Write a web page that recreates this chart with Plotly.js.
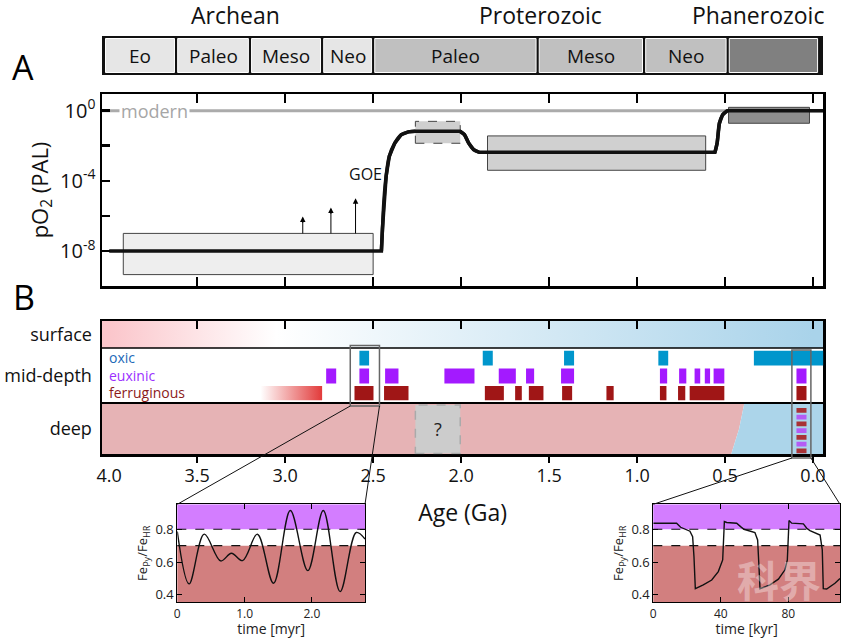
<!DOCTYPE html>
<html><head><meta charset="utf-8">
<script src="https://cdn.plot.ly/plotly-3.0.1.min.js"></script>
<style>html,body{margin:0;padding:0;background:#fff}#chart{width:848px;height:638px}</style>
</head><body><div id="chart"></div>
<script>
// ================= DATA =================
// Geologic time scale (ages in Ga)
const eonNames = ['Archean', 'Proterozoic', 'Phanerozoic'];
const eonLabelAge = [3.28, 1.55, 0.31];
const eraNames = ['Eo', 'Paleo', 'Meso', 'Neo', 'Paleo', 'Meso', 'Neo', ''];
const eraStart = [4.03, 3.62, 3.20, 2.79, 2.50, 1.565, 0.96, 0.485];
const eraEnd   = [3.62, 3.20, 2.79, 2.50, 1.565, 0.96, 0.485, -0.035];
const eraEon   = [0, 0, 0, 0, 1, 1, 1, 2];

// Panel A: atmospheric pO2 (log10 PAL)
const o2Age = [4.0, 2.453, 2.447, 2.438, 2.426, 2.408, 2.377, 2.340, 2.300, 2.26, 2.006, 1.981, 1.957, 1.929, 1.898, 0.557, 0.545, 0.532, 0.514, 0.487, -0.06];
const o2Log = [-8, -8, -6.74, -5.05, -3.73, -2.60, -1.85, -1.37, -1.21, -1.17, -1.17, -1.37, -1.85, -2.22, -2.37, -2.37, -1.85, -0.72, -0.24, 0, 0];
const o2Transitions = [[1, 9], [10, 14], [15, 19]];   // index ranges of the curved transitions
const modernPO2 = 1;
const boxAgeStart = [3.92, 2.26, 1.85, 0.48];
const boxAgeEnd   = [2.50, 2.005, 0.61, 0.02];
const boxLogLow   = [-9.35, -1.86, -3.40, -0.72];
const boxLogHigh  = [-7.0, -0.61, -1.44, 0.19];
const boxFill     = ['#eeeeee', '#cfcfcf', '#d0d0d0', '#8e8e8e'];
const boxDash     = ['solid', 'dash', 'solid', 'solid'];
const arrowAge    = [2.90, 2.74, 2.60];
const arrowLogTop = [-6.03, -5.52, -4.99];
const goeAge = 2.545, goeLog = -3.63;

// Panel B: ocean redox (ages in Ga)
const surfaceGradAge = [4.0, 3.05, 0.0];
const surfaceGradColor = ['#fbc6cb', '#ffffff', '#a9d3ea'];
const ferGradAge = [3.14, 2.79];
const oxicStart = [2.578, 1.877, 1.415, 0.879, 0.336];
const oxicEnd   = [2.523, 1.820, 1.358, 0.823, -0.06];
const euxStart  = [2.767, 2.578, 2.432, 2.095, 1.786, 1.631, 1.432, 0.870, 0.761, 0.673, 0.615, 0.565, 0.094];
const euxEnd    = [2.710, 2.523, 2.356, 1.924, 1.689, 1.585, 1.358, 0.829, 0.720, 0.641, 0.585, 0.504, 0.037];
const ferStart  = [2.606, 2.438, 1.865, 1.693, 1.615, 1.426, 1.174, 0.870, 0.767, 0.701, 0.094];
const ferEnd    = [2.498, 2.299, 1.757, 1.655, 1.532, 1.369, 1.133, 0.833, 0.726, 0.504, 0.037];
const deepOxicBoundaryAge = [0.39, 0.42, 0.465];   // top, middle, bottom of deep zone
const unknownAge = [2.26, 2.005];
const deepStates = ['fer', 'eux', 'fer', 'eux', 'fer', 'eux', 'fer'];
const deepStatesAge = [0.094, 0.037];
const zoomBoxAge = [[2.63, 2.464], [0.12, 0.012]];

// Insets: Fe_py/Fe_HR
const thresholds = [0.7, 0.8];
const inset1Time = [0, 0.175, 0.40, 0.645, 0.805, 0.97, 1.19, 1.43, 1.68, 1.94, 2.17, 2.42, 2.66, 2.79];
const inset1Val  = [0.786, 0.467, 0.77, 0.607, 0.654, 0.609, 0.77, 0.471, 0.914, 0.548, 0.914, 0.42, 0.78, 0.74];
const inset2Time = [0, 13.8, 16.2, 18.8, 21.7, 23.3, 24.1, 24.9, 29.6, 34.6, 38.5, 41.1, 42.1, 43.5, 49.4, 51.7, 53.7, 60.2, 61.8, 62.6, 63.2, 69.1, 74.1, 78.0, 79.4, 80.4, 82.0, 88.9, 90.9, 92.8, 98.8, 100.1, 100.7, 102.7, 107.6, 110.6];
const inset2Val  = [0.837, 0.837, 0.812, 0.80, 0.788, 0.755, 0.633, 0.438, 0.461, 0.491, 0.542, 0.613, 0.847, 0.841, 0.837, 0.816, 0.80, 0.78, 0.735, 0.573, 0.438, 0.461, 0.496, 0.553, 0.613, 0.853, 0.837, 0.833, 0.806, 0.792, 0.765, 0.674, 0.438, 0.436, 0.471, 0.50];

// ================= LAYOUT GEOMETRY =================
const W = 848, H = 638;
const px = v => v / W, py = v => 1 - v / H;
const FONT = 'Open Sans';
const AX = {l: 102, r: 823.3};
const AGE_L = 4.041, AGE_R = -0.0585;
const PA = {t: 94, b: 286};
const PB = {t: 321, b: 454.3};
const BY = PB.b - PB.t;                 // panel B y units
const deepTop = 51.3, surfBot = 106.3;
const rowY = {oxic: [88.8, 103.6], eux: [70.9, 85.7], fer: [54, 68.3]};
const INS = {t: 504.3, b: 602.3, x1: [177.3, 365], x2: [653.3, 840]};
const C = {oxic: '#0096cc', eux: '#a31aff', fer: '#a01616', deepFer: '#a83236', deepEux: '#b45cf5'};

const agePaper = a => px(AX.l) + (AGE_L - a) / (AGE_L - AGE_R) * (px(AX.r) - px(AX.l));
const bPaper = v => py(PB.b) + v / BY * (py(PB.t) - py(PB.b));

const traces = [];
const shapes = [];
const ann = [];
const skip = {hoverinfo: 'skip', showlegend: false};
const mid = {xanchor: 'center', yanchor: 'middle', showarrow: false};

function rect(xa, ya, x0, x1, y0, y1, fill, lineColor, lw, dash) {
  traces.push(Object.assign({type: 'scatter', mode: 'lines', xaxis: xa, yaxis: ya,
    x: [x0, x1, x1, x0, x0], y: [y0, y0, y1, y1, y0], fill: 'toself', fillcolor: fill,
    line: {color: lineColor, width: lw, dash: dash || 'solid'}}, skip));
}

// ---------- Eon bar ----------
shapes.push({type: 'rect', xref: 'paper', yref: 'paper', x0: px(102), x1: px(823), y0: py(75), y1: py(36), fillcolor: '#111', line: {width: 0}});
const eonFill = ['#e6e6e6', '#c0c0c0', '#808080'];
eraNames.forEach((n, i) => {
  const g = 0.009;
  shapes.push({type: 'rect', xref: 'x', yref: 'paper', x0: eraStart[i] - g, x1: eraEnd[i] + g, y0: py(72.5), y1: py(38.5),
    fillcolor: eonFill[eraEon[i]], line: {color: '#ffffff', width: 1}});
  if (n) ann.push(Object.assign({xref: 'x', yref: 'paper', x: (eraStart[i] + eraEnd[i]) / 2, y: py(55.5), text: n,
    font: {family: FONT, size: 19, color: '#111'}}, mid));
});
eonNames.forEach((n, i) => ann.push(Object.assign({xref: 'x', yref: 'paper', x: eonLabelAge[i], y: py(15), text: n,
  font: {family: FONT, size: 23, color: '#111'}}, mid)));
ann.push(Object.assign({xref: 'paper', yref: 'paper', x: px(23), y: py(67), text: 'A', font: {family: FONT, size: 34, color: '#000'}}, mid));
ann.push(Object.assign({xref: 'paper', yref: 'paper', x: px(24), y: py(297), text: 'B', font: {family: FONT, size: 34, color: '#000'}}, mid));

// ---------- Panel A ----------
traces.push(Object.assign({type: 'scatter', mode: 'lines', x: [AGE_L, AGE_R], y: [modernPO2, modernPO2],
  line: {color: '#ababab', width: 3}, xaxis: 'x', yaxis: 'y'}, skip));
boxAgeStart.forEach((s, i) => rect('x', 'y', s, boxAgeEnd[i], Math.pow(10, boxLogLow[i]), Math.pow(10, boxLogHigh[i]),
  boxFill[i], '#444', 1, boxDash[i]));
arrowAge.forEach((a, i) => traces.push(Object.assign({type: 'scatter', mode: 'lines', xaxis: 'x', yaxis: 'y',
  x: [a, a], y: [Math.pow(10, boxLogHigh[0]), Math.pow(10, arrowLogTop[i] - 0.3)], line: {color: '#000', width: 1}}, skip)));
arrowAge.forEach((a, i) => ann.push({xref: 'x', yref: 'y', x: a, y: arrowLogTop[i], ax: a, ay: arrowLogTop[i] - 0.45,
  axref: 'x', ayref: 'y', text: '', showarrow: true, arrowhead: 2, arrowsize: 1.1, arrowwidth: 1, arrowcolor: '#000'}));
// pO2 curve: flat parts straight, transitions smoothed
const o2Line = {color: '#111', width: 3.5};
traces.push(Object.assign({type: 'scatter', mode: 'lines', x: o2Age, y: o2Log.map(v => Math.pow(10, v)),
  line: o2Line, xaxis: 'x', yaxis: 'y'}, skip));
o2Transitions.forEach(([a, b]) => traces.push(Object.assign({type: 'scatter', mode: 'lines',
  x: o2Age.slice(a, b + 1), y: o2Log.slice(a, b + 1).map(v => Math.pow(10, v)),
  line: Object.assign({shape: 'spline', smoothing: 1}, o2Line), xaxis: 'x', yaxis: 'y'}, skip)));
ann.push(Object.assign({xref: 'x', yref: 'y', x: 3.74, y: Math.log10(modernPO2), text: 'modern', bgcolor: '#fff', borderpad: 1,
  font: {family: FONT, size: 18, color: '#a6a6a6'}}, mid));
ann.push(Object.assign({xref: 'x', yref: 'y', x: goeAge, y: goeLog, text: 'GOE', font: {family: FONT, size: 16, color: '#111'}}, mid));

// ---------- Panel B ----------
const gradScale = (ages, cols, a0, a1) => ages.map((a, i) => [(a0 - a) / (a0 - a1), cols[i]]);
let sc = gradScale(surfaceGradAge, surfaceGradColor, AGE_L, AGE_R);
sc = [[0, surfaceGradColor[0]]].concat(sc).concat([[1, surfaceGradColor[surfaceGradColor.length - 1]]]);
traces.push(Object.assign({type: 'scatter', mode: 'lines', xaxis: 'x2', yaxis: 'y2',
  x: [AGE_L, AGE_R, AGE_R, AGE_L, AGE_L], y: [surfBot, surfBot, BY, BY, surfBot], fill: 'toself', line: {width: 0},
  fillgradient: {type: 'horizontal', start: AGE_L, stop: AGE_R, colorscale: sc}}, skip));
traces.push(Object.assign({type: 'scatter', mode: 'lines', xaxis: 'x2', yaxis: 'y2',
  x: [ferGradAge[0], ferGradAge[1], ferGradAge[1], ferGradAge[0], ferGradAge[0]], y: [rowY.fer[0], rowY.fer[0], rowY.fer[1], rowY.fer[1], rowY.fer[0]],
  fill: 'toself', line: {width: 0}, fillgradient: {type: 'horizontal', start: ferGradAge[0], stop: ferGradAge[1], colorscale: [[0, 'rgba(255,255,255,1)'], [1, '#e23a3a']]}}, skip));
// deep zone: anoxic (pink) vs oxic (blue)
const dB = deepOxicBoundaryAge;
traces.push(Object.assign({type: 'scatter', mode: 'lines', xaxis: 'x2', yaxis: 'y2',
  x: [AGE_L, dB[0], dB[1], dB[2], AGE_L, AGE_L], y: [deepTop, deepTop, deepTop / 2, 0, 0, deepTop], fill: 'toself', fillcolor: '#e6b3b5', line: {width: 0}}, skip));
traces.push(Object.assign({type: 'scatter', mode: 'lines', xaxis: 'x2', yaxis: 'y2',
  x: [dB[0], AGE_R, AGE_R, dB[2], dB[1], dB[0]], y: [deepTop, deepTop, 0, 0, deepTop / 2, deepTop], fill: 'toself', fillcolor: '#acd5ea', line: {width: 0}}, skip));
traces.push(Object.assign({type: 'scatter', mode: 'none', x: [0], y: [0], xaxis: 'x3', yaxis: 'y2'}, skip));
traces.push(Object.assign({type: 'scatter', mode: 'none', x: [0], y: [0], xaxis: 'x4', yaxis: 'y2'}, skip));

function bar(s, e, row, color) {
  shapes.push({type: 'rect', xref: 'x2', yref: 'y2', x0: s, x1: e, y0: rowY[row][0], y1: rowY[row][1], fillcolor: color, line: {width: 0}});
}
oxicStart.forEach((s, i) => bar(s, oxicEnd[i], 'oxic', C.oxic));
euxStart.forEach((s, i) => bar(s, euxEnd[i], 'eux', C.eux));
ferStart.forEach((s, i) => bar(s, ferEnd[i], 'fer', C.fer));
// unknown box
shapes.push({type: 'rect', xref: 'x2', yref: 'y2', x0: unknownAge[0], x1: unknownAge[1], y0: 0.8, y1: deepTop - 2, fillcolor: '#cccccc',
  line: {color: '#aaaaaa', width: 1.5, dash: 'dash'}});
ann.push(Object.assign({xref: 'x2', yref: 'y2', x: (unknownAge[0] + unknownAge[1]) / 2, y: deepTop / 2, text: '?', font: {family: FONT, size: 18, color: '#222'}}, mid));
// deep alternating states
const nS = deepStates.length, sh = (deepTop - 4) / nS;
deepStates.forEach((st, i) => shapes.push({type: 'rect', xref: 'x2', yref: 'y2', x0: deepStatesAge[0], x1: deepStatesAge[1],
  y0: deepTop - 4 - (i + 1) * sh + 1, y1: deepTop - 4 - i * sh - 1, fillcolor: st === 'fer' ? C.deepFer : C.deepEux, line: {width: 0}}));
// zone separators
shapes.push({type: 'line', xref: 'paper', yref: 'y2', x0: px(AX.l), x1: px(AX.r), y0: surfBot, y1: surfBot, line: {color: '#000', width: 1.3}});
shapes.push({type: 'line', xref: 'paper', yref: 'y2', x0: px(AX.l), x1: px(AX.r), y0: deepTop, y1: deepTop, line: {color: '#000', width: 2.2}});
// legend words
[['oxic', '#2169b8', 'oxic'], ['euxinic', '#9b30ff', 'eux'], ['ferruginous', '#8b1a1a', 'fer']].forEach(([t, c, r]) =>
  ann.push({xref: 'paper', yref: 'y2', x: px(AX.l + 5), xanchor: 'left', yanchor: 'middle', y: (rowY[r][0] + rowY[r][1]) / 2 + 1, text: t, showarrow: false,
    font: {family: FONT, size: 14, color: c}}));

// zoom boxes & connectors
const zoomY = [[108.8, 48.3], [104.3, -3.7]];
const insetX = [INS.x1, INS.x2];
zoomBoxAge.forEach((z, i) => {
  const xa = agePaper(z[0]), xb = agePaper(z[1]), yt = bPaper(zoomY[i][0]), yb = bPaper(zoomY[i][1]);
  shapes.push({type: 'rect', xref: 'paper', yref: 'paper', x0: xa, x1: xb, y0: yb, y1: yt, line: {color: '#666', width: 1.5}});
  shapes.push({type: 'line', xref: 'paper', yref: 'paper', x0: xa, y0: yb, x1: px(insetX[i][0]), y1: py(INS.t), line: {color: '#111', width: 1}});
  shapes.push({type: 'line', xref: 'paper', yref: 'paper', x0: xb, y0: yb, x1: px(insetX[i][1]), y1: py(INS.t), line: {color: '#111', width: 1}});
});

// ---------- Insets ----------
[['x5', 'y5', inset1Time, inset1Val], ['x6', 'y6', inset2Time, inset2Val]].forEach(([xa, ya, t, v], k) => {
  const xd = insetX[k];
  shapes.push({type: 'rect', xref: 'paper', yref: ya, x0: px(xd[0]), x1: px(xd[1]), y0: thresholds[1], y1: 0.952, fillcolor: '#d37dff', line: {width: 0}, layer: 'below'});
  shapes.push({type: 'rect', xref: 'paper', yref: ya, x0: px(xd[0]), x1: px(xd[1]), y0: 0.355, y1: thresholds[0], fillcolor: '#d27f7f', line: {width: 0}, layer: 'below'});
  thresholds.forEach(th => shapes.push({type: 'line', xref: 'paper', yref: ya, x0: px(xd[0]), x1: px(xd[1]), y0: th, y1: th,
    line: {color: '#111', width: 1.2, dash: 'dash'}}));
  traces.push(Object.assign({type: 'scatter', mode: 'lines', x: t, y: v, xaxis: xa, yaxis: ya,
    line: {color: '#111', width: 1.4, shape: k === 0 ? 'spline' : 'linear', smoothing: 1}}, skip));
});
ann.push(Object.assign({xref: 'paper', yref: 'paper', x: px(779), y: py(578), text: '科界',
  font: {family: 'Noto Sans CJK SC', size: 42, color: 'rgba(255,255,255,0.35)', weight: 700}}, mid));

// ---------- Axes ----------
const tv = [3.5, 3, 2.5, 2, 1.5, 1, 0.5, 0];
const base = {showgrid: false, zeroline: false, fixedrange: true, linecolor: '#000', tickcolor: '#000'};
const insetX_ax = (dom, rng, vals, txt, title) => Object.assign({}, base, {domain: [px(dom[0]), px(dom[1])], range: rng,
  showline: true, linewidth: 1, mirror: 'ticks', ticks: 'inside', ticklen: 5, tickwidth: 1, tickvals: vals, ticktext: txt,
  ticklabelstandoff: 0, tickfont: {family: FONT, size: 12, color: '#222'},
  title: {text: title, font: {family: FONT, size: 14, color: '#222'}, standoff: 3}});
const insetY_ax = (anchor) => Object.assign({}, base, {domain: [py(INS.b), py(INS.t)], range: [0.355, 0.952], anchor: anchor,
  showline: true, linewidth: 1, mirror: 'ticks', ticks: 'inside', ticklen: 5, tickwidth: 1, tickvals: [0.4, 0.6, 0.8], ticktext: ['0.4', '0.6', '0.8'],
  tickfont: {family: FONT, size: 13, color: '#222'}, title: {text: 'Fe<sub>Py</sub>/Fe<sub>HR</sub>', font: {family: FONT, size: 13, color: '#222'}, standoff: 4}});

const layout = {
  width: W, height: H, margin: {l: 0, r: 0, t: 0, b: 0}, paper_bgcolor: '#fff', plot_bgcolor: 'rgba(0,0,0,0)',
  showlegend: false, font: {family: FONT, color: '#111'},
  xaxis: Object.assign({}, base, {domain: [px(AX.l), px(AX.r)], range: [AGE_L, AGE_R], anchor: 'y', showline: true, linewidth: 2.5,
    mirror: 'ticks', ticks: 'inside', ticklen: 9, tickwidth: 2.5, tickvals: tv, showticklabels: false}),
  yaxis: Object.assign({}, base, {domain: [py(PA.b), py(PA.t)], type: 'log', range: [-10, 0.95], anchor: 'x', showline: true, linewidth: 2.5,
    mirror: true, ticks: 'inside', ticklen: 8, tickwidth: 2.5, tickvals: [1, 1e-2, 1e-4, 1e-6, 1e-8],
    ticktext: ['10<sup>0</sup>', '', '10<sup>-4</sup>', '', '10<sup>-8</sup>'], tickfont: {family: FONT, size: 20, color: '#111'},
    title: {text: 'pO<sub>2</sub> (PAL)', font: {family: FONT, size: 22, color: '#111'}, standoff: 6}}),
  xaxis2: Object.assign({}, base, {domain: [px(AX.l), px(AX.r)], range: [AGE_L, AGE_R], anchor: 'y2', showline: true, linewidth: 2.5,
    mirror: true, ticks: '', tickvals: [4].concat(tv), ticktext: ['4.0', '3.5', '3.0', '2.5', '2.0', '1.5', '1.0', '0.5', '0.0'],
    ticklabelstandoff: 4, tickfont: {family: FONT, size: 18, color: '#111'},
    title: {text: 'Age (Ga)', font: {family: FONT, size: 23, color: '#111'}, standoff: 19}}),
  xaxis3: Object.assign({}, base, {overlaying: 'x2', anchor: 'y2', side: 'bottom', range: [AGE_L, AGE_R], showline: false,
    ticks: 'outside', ticklen: 8, tickwidth: 2.5, tickvals: tv, showticklabels: false}),
  xaxis4: Object.assign({}, base, {overlaying: 'x2', anchor: 'y2', side: 'top', range: [AGE_L, AGE_R], showline: false,
    ticks: 'inside', ticklen: 8, tickwidth: 2.5, tickvals: tv, showticklabels: false}),
  yaxis2: Object.assign({}, base, {domain: [py(PB.b), py(PB.t)], range: [0, BY], anchor: 'x2', showline: true, linewidth: 2.5, mirror: true,
    ticks: '', tickvals: [(surfBot + BY) / 2, (deepTop + surfBot) / 2, deepTop / 2], ticktext: ['surface', 'mid-depth', 'deep'],
    ticklabelstandoff: 4, tickfont: {family: FONT, size: 18, color: '#111'}}),
  xaxis5: Object.assign(insetX_ax(INS.x1, [0, 2.79], [0, 1, 2], ['0', '1.0', '2.0'], 'time [myr]'), {anchor: 'y5'}),
  yaxis5: insetY_ax('x5'),
  xaxis6: Object.assign(insetX_ax(INS.x2, [0, 110.6], [0, 40, 80], ['0', '40', '80'], 'time [kyr]'), {anchor: 'y6'}),
  yaxis6: insetY_ax('x6'),
  shapes: shapes, annotations: ann
};

Plotly.newPlot('chart', traces, layout, {staticPlot: true, displayModeBar: false});
</script></body></html>
